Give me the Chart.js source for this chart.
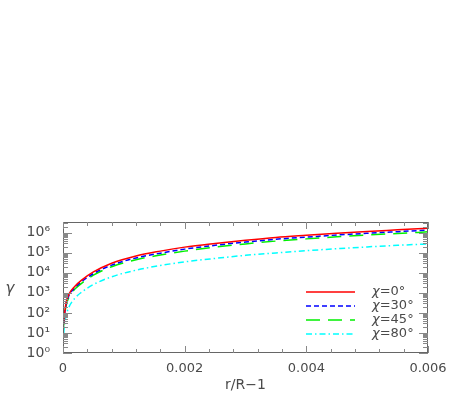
<!DOCTYPE html>
<html>
<head>
<meta charset="utf-8">
<script src="https://cdn.jsdelivr.net/npm/chart.js@4"></script>
<style>
  html, body { margin: 0; padding: 0; background: #fff; }
  #wrap { width: 452px; height: 409px; position: relative; }
</style>
</head>
<body>
<div id="wrap"><canvas id="c" width="452" height="409"></canvas></div>
<script>
// ── Data ─────────────────────────────────────────────────────────────────────

const X_VALUES = [0, 0.00002, 0.00005, 0.0001, 0.0002, 0.0003, 0.0005, 0.0008, 0.0012, 0.0016,
                  0.002, 0.0025, 0.003, 0.0035, 0.004, 0.0045, 0.005, 0.0055, 0.006];

const GAMMA_CHI0  = [16, 63, 320, 890, 2.2e3, 4.2e3, 1.1e4, 3.0e4, 6.9e4, 1.2e5,
                     1.9e5, 2.9e5, 4.2e5, 5.8e5, 7.4e5, 9.3e5, 1.15e6, 1.38e6, 1.66e6];
const GAMMA_CHI30 = [12.6, 56, 270, 760, 1.86e3, 3.5e3, 9.1e3, 2.4e4, 5.5e4, 9.5e4,
                     1.51e5, 2.34e5, 3.4e5, 4.7e5, 6.0e5, 7.6e5, 9.3e5, 1.12e6, 1.35e6];
const GAMMA_CHI45 = [10, 50, 224, 630, 1.58e3, 2.9e3, 7.6e3, 2.0e4, 4.5e4, 7.6e4,
                     1.2e5, 1.9e5, 2.75e5, 3.8e5, 4.9e5, 6.2e5, 7.6e5, 9.1e5, 1.1e6];
const GAMMA_CHI80 = [2, 20, 71, 200, 560, 1.05e3, 2.6e3, 6.3e3, 1.35e4, 2.3e4,
                     3.5e4, 5.2e4, 7.4e4, 9.8e4, 1.26e5, 1.58e5, 1.95e5, 2.34e5, 2.75e5];

const SERIES_LABELS = ['χ=0°', 'χ=30°', 'χ=45°', 'χ=80°'];
const X_TICKS = [0, 0.002, 0.004, 0.006];
const X_TICK_LABELS = ['0', '0.002', '0.004', '0.006'];
const Y_TICKS = [1, 10, 100, 1e3, 1e4, 1e5, 1e6];
const Y_TICK_LABELS = ['10⁰', '10¹', '10²', '10³', '10⁴', '10⁵', '10⁶'];

// ── Styling ──────────────────────────────────────────────────────────────────

const FONT = 'DejaVu Sans';
const TXT = '#4a4a4a';

const STYLES = [
  { color: '#ff0000', dash: [] },
  { color: '#0000ff', dash: [5, 3] },
  { color: '#00f000', dash: [14, 8] },
  { color: '#00ffff', dash: [6, 3, 1.5, 3] },
];

const series = [GAMMA_CHI0, GAMMA_CHI30, GAMMA_CHI45, GAMMA_CHI80];

const datasets = series.map((vals, i) => ({
  label: SERIES_LABELS[i],
  data: X_VALUES.map((x, j) => ({ x: x, y: vals[j] })),
  borderColor: STYLES[i].color,
  borderDash: STYLES[i].dash,
  borderWidth: 1.5,
  pointRadius: 0,
  cubicInterpolationMode: 'monotone',
  fill: false,
}));

// frame, inward ticks, legend and axis titles
const framePlugin = {
  id: 'frame',
  afterDatasetsDraw(chart) {
    const { ctx, chartArea: a, scales } = chart;
    const xs = scales.x, ys = scales.y;
    ctx.save();
    ctx.strokeStyle = '#666';
    ctx.lineWidth = 1;
    ctx.setLineDash([]);
    ctx.strokeRect(a.left + 0.5, a.top + 0.5, a.right - a.left - 1, a.bottom - a.top - 1);

    ctx.beginPath();
    // x ticks, top & bottom
    for (let k = 0; k <= 15; k++) {
      const v = k * 0.0004;
      const px = Math.round(xs.getPixelForValue(v)) + 0.5;
      const len = (k % 5 === 0) ? 7 : 4;
      ctx.moveTo(px, a.bottom); ctx.lineTo(px, a.bottom - len);
      ctx.moveTo(px, a.top); ctx.lineTo(px, a.top + len);
    }
    // y ticks, left & right
    for (let d = 0; d <= 6; d++) {
      for (let m = 1; m <= 9; m++) {
        const v = m * Math.pow(10, d);
        if (v > ys.max) continue;
        const py = Math.round(ys.getPixelForValue(v)) + 0.5;
        const len = (m === 1) ? 9 : 5;
        ctx.moveTo(a.left, py); ctx.lineTo(a.left + len, py);
        ctx.moveTo(a.right, py); ctx.lineTo(a.right - len, py);
      }
    }
    ctx.strokeStyle = '#888';
    ctx.stroke();

    // legend
    const lx0 = 306, lx1 = 355, tx = 372;
    const rows = [292, 306, 320, 334];
    chart.data.datasets.forEach((ds, i) => {
      ctx.beginPath();
      ctx.strokeStyle = ds.borderColor;
      ctx.lineWidth = 1.5;
      ctx.setLineDash(ds.borderDash);
      ctx.moveTo(lx0, rows[i]); ctx.lineTo(lx1, rows[i]);
      ctx.stroke();
      ctx.setLineDash([]);
      ctx.fillStyle = TXT;
      ctx.textBaseline = 'middle';
      ctx.font = 'italic 13px ' + FONT;
      ctx.fillText('χ', tx, rows[i]);
      const w = ctx.measureText('χ').width;
      ctx.font = '13px ' + FONT;
      ctx.fillText(ds.label.slice(1), tx + w, rows[i]);
    });

    // axis titles
    ctx.fillStyle = TXT;
    ctx.font = '14px ' + FONT;
    ctx.textAlign = 'center';
    ctx.textBaseline = 'middle';
    ctx.fillText('r/R−1', (a.left + a.right) / 2, 385);
    ctx.font = 'italic 15px ' + FONT;
    ctx.fillText('γ', 10, 289);
    ctx.restore();
  }
};

new Chart(document.getElementById('c').getContext('2d'), {
  type: 'line',
  data: { datasets },
  options: {
    responsive: false,
    animation: false,
    layout: { padding: { top: 222, right: 24, left: 0, bottom: 0 } },
    plugins: { legend: { display: false }, tooltip: { enabled: false } },
    scales: {
      x: {
        type: 'linear',
        min: 0,
        max: 0.006,
        afterBuildTicks: s => { s.ticks = X_TICKS.map(v => ({ value: v })); },
        afterFit: s => { s.height = 56; },
        ticks: {
          color: TXT,
          font: { family: FONT, size: 13 },
          padding: 0,
          maxRotation: 0,
          callback: (v, i) => X_TICK_LABELS[i],
        },
        grid: { display: false },
        border: { display: false },
      },
      y: {
        type: 'logarithmic',
        min: 1,
        max: 3.4e6,
        afterBuildTicks: s => { s.ticks = Y_TICKS.map(v => ({ value: v })); },
        afterFit: s => { s.width = 63; },
        ticks: {
          color: TXT,
          font: { family: FONT, size: 14 },
          padding: 5,
          callback: (v, i) => Y_TICK_LABELS[i],
        },
        grid: { display: false },
        border: { display: false },
      },
    },
  },
  plugins: [framePlugin],
});
</script>
</body>
</html>
